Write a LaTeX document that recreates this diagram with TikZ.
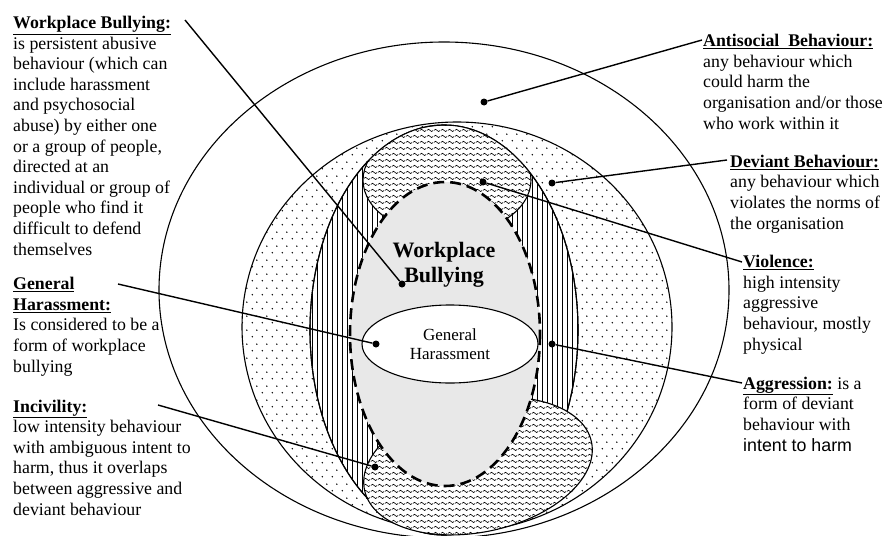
\documentclass[tikz,border=0pt]{standalone}
\usepackage{fontspec}
\setmainfont{Liberation Serif}
\newfontfamily\arialfont{Liberation Sans}
\usetikzlibrary{patterns,shapes.geometric}
\newcommand{\ulhead}[1]{\underline{\textbf{#1}}}
% ------ motifs -----------------
\pgfdeclarepatternformonly{sprinkle}{\pgfqpoint{0pt}{0pt}}{\pgfqpoint{10pt}{14pt}}{\pgfqpoint{10pt}{14pt}}{%
  \pgfpathcircle{\pgfqpoint{2.5pt}{3.5pt}}{0.85pt}%
  \pgfpathcircle{\pgfqpoint{7.5pt}{10.5pt}}{0.85pt}%
  \pgfusepath{fill}}
\pgfdeclarepatternformonly{pales}{\pgfqpoint{0pt}{-1pt}}{\pgfqpoint{5pt}{6pt}}{\pgfqpoint{5pt}{5pt}}{%
  \pgfsetlinewidth{0.9pt}%
  \pgfpathmoveto{\pgfqpoint{2.5pt}{-1pt}}\pgfpathlineto{\pgfqpoint{2.5pt}{6pt}}%
  \pgfusepath{stroke}}
\pgfdeclarepatternformonly{ripple}{\pgfqpoint{0pt}{0pt}}{\pgfqpoint{7pt}{6pt}}{\pgfqpoint{7pt}{6pt}}{%
  \pgfsetlinewidth{0.7pt}%
  \pgfpathmoveto{\pgfqpoint{0pt}{3pt}}%
  \pgfpathcurveto{\pgfqpoint{1.2pt}{4.8pt}}{\pgfqpoint{2.3pt}{4.8pt}}{\pgfqpoint{3.5pt}{3pt}}%
  \pgfpathcurveto{\pgfqpoint{4.7pt}{1.2pt}}{\pgfqpoint{5.8pt}{1.2pt}}{\pgfqpoint{7pt}{3pt}}%
  \pgfusepath{stroke}}
\begin{document}
\begin{tikzpicture}[x=1pt,y=-1pt,
    ring/.style={line width=1.1pt},
    spot/.style={circle,fill,inner sep=0pt,minimum size=7pt},
    lead/.style={line width=1.4pt},
    blurb/.style={anchor=base west,align=left,inner sep=0pt,font=\fontsize{17.8}{20.6}\selectfont}]
\useasboundingbox (0,0) rectangle (888,535);
% ------ ellipses -----------------
\draw [ring, fill=white] (444,290) ellipse [x radius=285, y radius=248];
\draw [ring, pattern=sprinkle] (457,327) ellipse [x radius=215, y radius=205];
\draw [ring, fill=white] (444,330) ellipse [x radius=134, y radius=205];
\fill [pattern=pales] (444,330) ellipse [x radius=134, y radius=205];
\begin{scope}
  \clip (444,330) ellipse [x radius=134, y radius=205];
  \draw [ring, fill=white, postaction={pattern=ripple}] (447,180) ellipse [x radius=84, y radius=55];
\end{scope}
\draw [ring] (444,330) ellipse [x radius=134, y radius=205];
\draw [ring, fill=white, postaction={pattern=ripple}, rotate around={12:(478,466)}]
  (478,466) ellipse [x radius=116, y radius=66];
\draw [line width=2.6pt, dash pattern=on 11pt off 6pt, fill=gray!18] (445,334) ellipse [x radius=95, y radius=152];
\node [draw, ring, ellipse, fill=white, minimum width=176pt, minimum height=78pt, inner sep=0pt,
  align=center, font=\fontsize{17}{19}\selectfont] (harass) at (450,344) {General\\Harassment};
\node [align=center, font=\bfseries\fontsize{22}{25}\selectfont] (bully) at (444,265) {Workplace\\Bullying};
% ------ texts (anchored at the last baseline) -----------------
\node [blurb] (bullytxt) at (13,255) {\ulhead{Workplace Bullying:}\\is persistent abusive\\behaviour (which can\\include harassment\\and psychosocial\\abuse) by either one\\or a group of people,\\directed at an\\individual or group of\\people who find it\\difficult to defend\\themselves};
\node [blurb] (harasstxt) at (13,372) {\ulhead{General}\\\ulhead{Harassment:}\\Is considered to be a\\form of workplace\\bullying};
\node [blurb] (incivtxt) at (13,515) {\ulhead{Incivility:}\\low intensity behaviour\\with ambiguous intent to\\harm, thus it overlaps\\between aggressive and\\deviant behaviour};
\node [blurb] (antitxt) at (703,129) {\ulhead{Antisocial\ \ Behaviour:}\\any behaviour which\\could harm the\\organisation and/or those\\who work within it};
\node [blurb] (devtxt) at (730,229) {\ulhead{Deviant Behaviour:}\\any behaviour which\\violates the norms of\\the organisation};
\node [blurb] (violtxt) at (743,350) {\ulhead{Violence:}\\high intensity\\aggressive\\behaviour, mostly\\physical};
\node [blurb] (aggrtxt) at (743,451) {\ulhead{Aggression:} is a\\form of deviant\\behaviour with\\{\arialfont intent to harm}};
% ------ spots and leads -----------------
\node [spot] (bullyspot) at (402,284) {};
\node [spot] (harassspot) at (376,344) {};
\node [spot] (incivspot) at (375,467) {};
\node [spot] (antispot) at (484,102) {};
\node [spot] (devspot) at (552,183) {};
\node [spot] (violspot) at (483,182) {};
\node [spot] (aggrspot) at (552,344) {};
\coordinate (bullyend) at (185,20);
\coordinate (harassend) at (118,284);
\coordinate (incivend) at (158,405);
\coordinate (antiend) at (702,40);
\coordinate (devend) at (727,160);
\coordinate (violend) at (742,262);
\coordinate (aggrend) at (742,383);
\draw [lead] (bullyend) -- (bullyspot);
\draw [lead] (harassend) -- (harassspot);
\draw [lead] (incivend) -- (incivspot);
\draw [lead] (antispot) -- (antiend);
\draw [lead] (devspot) -- (devend);
\draw [lead] (violspot) -- (violend);
\draw [lead] (aggrspot) -- (aggrend);
\end{tikzpicture}
\end{document}
